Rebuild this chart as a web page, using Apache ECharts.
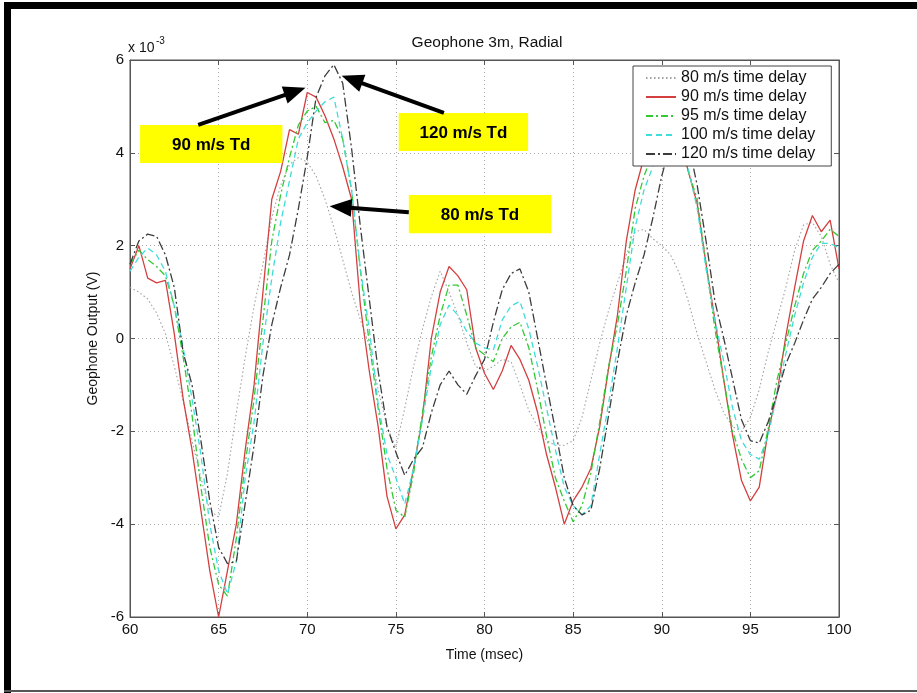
<!DOCTYPE html>
<html>
<head>
<meta charset="utf-8">
<script src="https://cdn.jsdelivr.net/npm/echarts@6/dist/echarts.min.js"></script>
<style>
html, body { margin: 0; padding: 0; background: #fff; }
#chart { width: 917px; height: 693px; }
</style>
</head>
<body>
<div id="chart"></div>
<script>
var FONT = '"Liberation Sans", Arial, Helvetica, sans-serif';

// time axis (msec)
var timeMs = [60, 60.5, 61, 61.5, 62, 62.5, 63, 63.5, 64, 64.5,
    65, 65.5, 66, 66.5, 67, 67.5, 68, 68.5, 69, 69.5,
    70, 70.5, 71, 71.5, 72, 72.5, 73, 73.5, 74, 74.5,
    75, 75.5, 76, 76.5, 77, 77.5, 78, 78.5, 79, 79.5,
    80, 80.5, 81, 81.5, 82, 82.5, 83, 83.5, 84, 84.5,
    85, 85.5, 86, 86.5, 87, 87.5, 88, 88.5, 89, 89.5,
    90, 90.5, 91, 91.5, 92, 92.5, 93, 93.5, 94, 94.5,
    95, 95.5, 96, 96.5, 97, 97.5, 98, 98.5, 99, 99.5,
    100];

// geophone output, x 10^-3 V
var td80 = [1.1, 1.0, 0.85, 0.55, 0.1, -0.6, -1.35, -2.2, -3.0, -3.7,
    -3.85, -2.9, -1.6, -0.4, 0.7, 1.6, 2.6, 3.3, 3.75, 3.9,
    3.8, 3.5, 3.0, 2.4, 1.7, 1.0, 0.4, -0.15, -1.1, -1.9,
    -2.35, -1.5, -0.6, 0.2, 0.9, 1.45, 1.0, 0.5, -0.1, -0.6,
    -0.7, -0.6, -0.45, -0.5, -1.0, -1.55, -1.9, -2.2, -2.3, -2.3,
    -2.2, -1.7, -0.9, -0.1, 0.6, 1.2, 1.8, 2.3, 2.35, 2.15,
    2.0, 1.8, 1.4, 0.8, 0.1, -0.5, -1.1, -1.6, -1.9, -2.0,
    -1.7, -1.1, -0.3, 0.4, 1.1, 1.9, 2.45, 2.5, 2.2, 1.6,
    1.2];
var td90 = [1.5, 2.0, 1.3, 1.2, 1.25, 0.1, -1.3, -2.4, -3.7, -5.0,
    -6.0, -5.0, -4.0, -2.4, -1.0, 1.0, 3.0, 3.6, 4.5, 4.4,
    5.3, 5.2, 4.8, 4.3, 3.7, 3.0, 0.7, -0.7, -1.9, -3.4,
    -4.1, -3.8, -2.8, -1.7, 0.0, 1.0, 1.55, 1.35, 1.05, -0.2,
    -0.75, -1.1, -0.7, -0.15, -0.45, -0.9, -1.6, -2.5, -3.2, -4.0,
    -3.5, -3.2, -2.8, -1.9, -0.65, 0.5, 2.1, 3.2, 3.9, 4.2,
    4.4, 4.5, 4.3, 3.6, 2.9, 1.6, 0.4, -0.9, -2.1, -3.06,
    -3.5, -3.2, -2.0, -1.2, 0.05, 1.1, 2.1, 2.65, 2.3, 2.55,
    1.5];
var td95 = [1.6, 1.9, 1.7, 1.55, 1.35, 0.7, -0.4, -1.65, -3.2, -4.5,
    -5.3, -5.55, -4.3, -2.7, -1.3, 0.4, 2.1, 3.1, 3.9, 4.6,
    4.9, 5.0, 4.65, 4.7, 4.3, 3.2, 1.46, -0.1, -1.5, -2.8,
    -3.7, -3.85, -2.9, -1.6, -0.4, 0.5, 1.15, 1.15, 0.5, -0.2,
    -0.35, -0.5, 0.0, 0.25, 0.35, -0.2, -1.1, -2.1, -3.0, -3.5,
    -3.95, -3.6, -2.9, -1.8, -0.6, 0.3, 1.46, 2.8, 3.5, 4.0,
    4.3, 4.4, 4.2, 3.6, 3.0, 1.6, 0.2, -0.9, -2.0, -2.6,
    -3.0, -2.85, -1.95, -0.9, -0.1, 0.7, 1.4, 1.9, 2.1, 2.35,
    2.2];
var td100 = [1.45, 1.75, 1.95, 1.8, 1.45, 0.7, -0.2, -1.3, -2.5, -4.0,
    -5.0, -5.5, -4.8, -3.0, -1.8, -0.1, 1.3, 2.5, 3.4, 4.3,
    4.65, 4.9, 5.1, 5.2, 4.3, 3.2, 1.5, 0.2, -1.4, -2.5,
    -3.0, -3.57, -2.8, -1.75, -0.6, 0.3, 0.72, 0.5, 0.15, -0.1,
    -0.2, -0.25, 0.4, 0.7, 0.8, 0.2, -0.6, -1.5, -2.4, -3.2,
    -3.6, -3.8, -3.6, -2.5, -1.4, -0.2, 1.1, 2.4, 3.2, 3.7,
    4.1, 4.3, 4.2, 3.65, 2.8, 1.5, 0.4, -0.5, -1.5, -2.2,
    -2.5, -2.6, -2.1, -1.2, -0.33, 0.5, 1.2, 1.75, 2.05, 2.05,
    1.95];
var td120 = [1.6, 2.1, 2.25, 2.2, 1.8, 1.1, -0.3, -1.0, -2.2, -3.5,
    -4.5, -4.85, -4.8, -3.55, -2.3, -0.8, 0.3, 1.1, 1.8, 2.8,
    3.9, 5.2, 5.66, 5.9, 5.5, 4.1, 2.4, 0.85, -0.7, -1.9,
    -2.45, -2.95, -2.6, -2.35, -1.6, -1.0, -0.7, -1.0, -1.2, -0.8,
    -0.45, 0.35, 1.05, 1.4, 1.5, 1.0, 0.0, -1.0, -1.97, -3.0,
    -3.6, -3.8, -3.7, -2.8, -1.66, -0.5, 0.5, 1.2, 1.8, 2.6,
    3.5, 4.2, 4.4, 4.2, 3.3, 2.1, 0.8, 0.0, -0.88, -1.75,
    -2.2, -2.25, -1.8, -1.2, -0.55, -0.1, 0.4, 0.85, 1.1, 1.4,
    1.6];

var seriesNames = ['80 m/s time delay', '90 m/s time delay', '95 m/s time delay',
    '100 m/s time delay', '120 m/s time delay'];
var seriesValues = [td80, td90, td95, td100, td120];
var seriesColors = ['#a0a0a0', '#d43f3f', '#33c933', '#3fdcdc', '#3c3c3c'];
var seriesDash = [[1.5, 2.5], 'solid', [7, 3, 2, 3], [6, 4], [9, 3, 2, 3]];

var xTicks = [60, 100, 5];
var yTicks = [-6, 6, 2];

// annotations, in data coordinates
var noteLabels = ['90 m/s Td', '120 m/s Td', '80 m/s Td'];
var noteBoxes = [[60.57, 4.60, 68.60, 3.78], [75.16, 4.86, 82.46, 4.04], [75.73, 3.09, 83.76, 2.27]];
var noteArrows = [[[63.85, 4.60], [69.9, 5.40]], [[77.71, 4.86], [71.94, 5.66]], [[75.73, 2.72], [71.26, 2.85]]];

function pairs(xs, ys) {
    var out = [];
    for (var i = 0; i < xs.length; i++) {
        out.push([xs[i], ys[i]]);
    }
    return out;
}

var series = seriesNames.map(function (name, i) {
    return {
        name: name,
        type: 'line',
        data: pairs(timeMs, seriesValues[i]),
        showSymbol: false,
        symbol: 'none',
        smooth: false,
        animation: false,
        lineStyle: { color: seriesColors[i], width: i === 0 ? 1.1 : 1.3, type: seriesDash[i] },
        itemStyle: { color: seriesColors[i] }
    };
});

var axisCommon = {
    axisLine: { show: true, onZero: false, lineStyle: { color: '#555', width: 1 } },
    axisTick: { show: true, inside: true, length: 5, lineStyle: { color: '#555' } }
};

var chart = echarts.init(document.getElementById('chart'), null, { renderer: 'canvas' });

var option = {
    backgroundColor: '#fff',
    animation: false,
    grid: { left: 130, right: 78, top: 60, bottom: 76, show: true, borderColor: '#555', borderWidth: 1, backgroundColor: '#fff' },
    legend: {
        orient: 'vertical',
        left: 633,
        top: 66,
        padding: [4, 16, 4, 12],
        itemWidth: 30,
        itemHeight: 12,
        itemGap: 3,
        backgroundColor: '#fff',
        borderColor: '#444',
        borderWidth: 1,
        borderRadius: 0,
        itemStyle: { opacity: 0 },
        textStyle: { fontFamily: FONT, fontSize: 16, lineHeight: 16, color: '#111' },
        data: seriesNames
    },
    xAxis: [
        Object.assign({
            type: 'value', min: xTicks[0], max: xTicks[1], interval: xTicks[2], position: 'bottom',
            axisLabel: { color: '#111', fontSize: 15, fontFamily: FONT, margin: 5 },
            splitLine: { show: true, lineStyle: { color: '#aaa', type: [1, 3] } },
            name: 'Time (msec)', nameLocation: 'middle', nameGap: 31,
            nameTextStyle: { color: '#111', fontSize: 14, fontFamily: FONT }
        }, axisCommon),
        Object.assign({
            type: 'value', min: xTicks[0], max: xTicks[1], interval: xTicks[2], position: 'top',
            axisLabel: { show: false }, splitLine: { show: false }
        }, axisCommon)
    ],
    yAxis: [
        Object.assign({
            type: 'value', min: yTicks[0], max: yTicks[1], interval: yTicks[2], position: 'left',
            axisLabel: { color: '#111', fontSize: 15, fontFamily: FONT, margin: 6 },
            splitLine: { show: true, lineStyle: { color: '#aaa', type: [1, 3] } },
            name: 'Geophone Output (V)', nameLocation: 'middle', nameGap: 30, nameRotate: 90,
            nameTextStyle: { color: '#111', fontSize: 14, fontFamily: FONT }
        }, axisCommon),
        Object.assign({
            type: 'value', min: yTicks[0], max: yTicks[1], interval: yTicks[2], position: 'right',
            axisLabel: { show: false }, splitLine: { show: false }
        }, axisCommon)
    ],
    series: series
};

chart.setOption(option);

// title, exponent, annotations and frame
function px(p) {
    return chart.convertToPixel({ xAxisIndex: 0, yAxisIndex: 0 }, p);
}

var graphics = [];
graphics.push({
    type: 'text', x: 487, y: 43, z: 10,
    style: { text: 'Geophone 3m, Radial', font: '15.5px ' + FONT, fill: '#111', align: 'center', verticalAlign: 'middle' }
});
graphics.push({
    type: 'text', x: 128, y: 48, z: 10,
    style: { text: 'x 10', font: '14px ' + FONT, fill: '#111', align: 'left', verticalAlign: 'middle' }
});
graphics.push({
    type: 'text', x: 156, y: 41, z: 10,
    style: { text: '-3', font: '10px ' + FONT, fill: '#111', align: 'left', verticalAlign: 'middle' }
});

noteLabels.forEach(function (label, i) {
    var b = noteBoxes[i];
    var p1 = px([b[0], b[1]]);
    var p2 = px([b[2], b[3]]);
    graphics.push({
        type: 'rect', z: 20,
        shape: { x: p1[0], y: p1[1], width: p2[0] - p1[0], height: p2[1] - p1[1] },
        style: { fill: '#ffff00' }
    });
    graphics.push({
        type: 'text', z: 21,
        x: (p1[0] + p2[0]) / 2, y: (p1[1] + p2[1]) / 2 + 1,
        style: { text: label, font: 'bold 17px ' + FONT, fill: '#000', align: 'center', verticalAlign: 'middle' }
    });

    var tail = px(noteArrows[i][0]);
    var tip = px(noteArrows[i][1]);
    var dx = tip[0] - tail[0], dy = tip[1] - tail[1];
    var len = Math.sqrt(dx * dx + dy * dy);
    var ux = dx / len, uy = dy / len;
    var headLen = 22, headHalf = 9;
    var base = [tip[0] - ux * headLen, tip[1] - uy * headLen];
    graphics.push({
        type: 'line', z: 22,
        shape: { x1: tail[0], y1: tail[1], x2: base[0] + ux * 2, y2: base[1] + uy * 2 },
        style: { stroke: '#000', lineWidth: 4 }
    });
    graphics.push({
        type: 'polygon', z: 22,
        shape: { points: [tip, [base[0] - uy * headHalf, base[1] + ux * headHalf], [base[0] + uy * headHalf, base[1] - ux * headHalf]] },
        style: { fill: '#000' }
    });
});

// figure frame: heavy top and left edges, thin bottom rule
graphics.push({ type: 'rect', z: 30, shape: { x: 4, y: 2, width: 913, height: 7 }, style: { fill: '#000' } });
graphics.push({ type: 'rect', z: 30, shape: { x: 4, y: 2, width: 7, height: 691 }, style: { fill: '#000' } });
graphics.push({ type: 'rect', z: 30, shape: { x: 4, y: 690, width: 913, height: 2 }, style: { fill: '#555' } });

chart.setOption({ graphic: graphics });
</script>
</body>
</html>
